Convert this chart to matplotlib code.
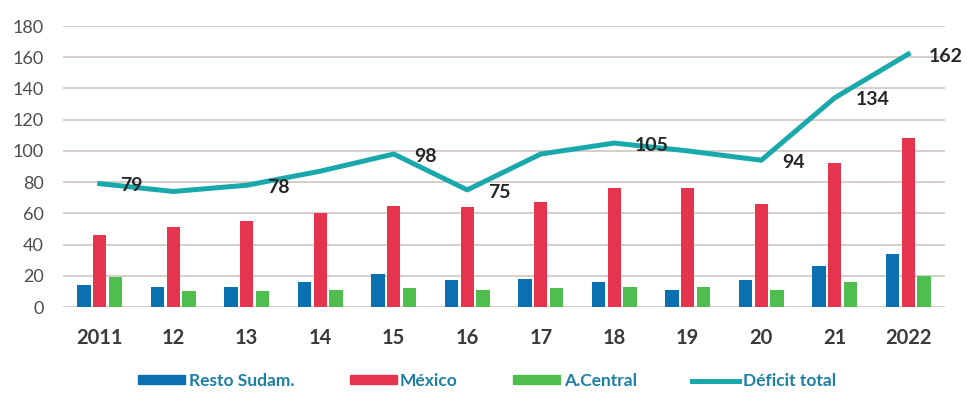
import matplotlib
matplotlib.use("Agg")
import matplotlib.pyplot as plt
import numpy as np
from matplotlib.patches import Patch
from matplotlib.lines import Line2D

years = ["2011", "12", "13", "14", "15", "16", "17", "18", "19", "20", "21", "2022"]
resto_sudam = [14, 13, 13, 16, 21, 17, 18, 16, 11, 17, 26, 34]
mexico = [46, 51, 55, 60, 65, 64, 67, 76, 76, 66, 92, 108]
a_central = [19, 10, 10, 11, 12, 11, 12, 13, 13, 11, 16, 20]
deficit_total = [79, 74, 78, 87, 98, 75, 98, 105, 100, 94, 134, 162]
labeled = [True, False, True, False, True, True, False, True, False, True, True, True]

c_blue = "#0A70B0"
c_red = "#E5344E"
c_green = "#4FBE4E"
c_teal = "#19A9AD"
c_legend_text = "#1C7FA6"

plt.rcParams["font.family"] = ["Lato", "DejaVu Sans"]

fig = plt.figure(figsize=(9.67, 3.94), dpi=100)
ax = fig.add_axes([63 / 967, 87 / 394, 882 / 967, 281 / 394])

x = np.arange(len(years))
w = 0.18
off = 0.215
ax.bar(x - off, resto_sudam, width=w, color=c_blue, zorder=3)
ax.bar(x, mexico, width=w, color=c_red, zorder=3)
ax.bar(x + off, a_central, width=w, color=c_green, zorder=3)
ax.plot(x, deficit_total, color=c_teal, lw=3.6, zorder=4, solid_joinstyle="round")

for xi, v, show in zip(x, deficit_total, labeled):
    if show:
        ax.annotate(str(v), (xi, v), xytext=(15, -1.5), textcoords="offset points",
                    ha="left", va="center", fontsize=14, fontweight="bold",
                    color="#262626", zorder=5)

ax.set_xlim(-0.5, len(years) - 0.5)
ax.set_ylim(0, 180)
ax.set_yticks(np.arange(0, 181, 20))
ax.yaxis.grid(True, color="#d8cec9", lw=1.4, zorder=0)
ax.set_axisbelow(True)
for s in ax.spines.values():
    s.set_visible(False)
ax.set_xticks(x)
ax.set_xticklabels(years, fontsize=14.5, fontweight="bold", color="#3a3a3a")
ax.tick_params(axis="x", length=0, pad=15)
ax.tick_params(axis="y", length=0, pad=14, labelsize=13, labelcolor="#4d4d4d")

handles = [
    Patch(color=c_blue, label="Resto Sudam."),
    Patch(color=c_red, label="México"),
    Patch(color=c_green, label="A.Central"),
    Line2D([0], [0], color=c_teal, lw=3.6, label="Déficit total"),
]
leg = fig.legend(handles=handles, loc="center", bbox_to_anchor=(487 / 967, 1 - 381 / 394),
                 ncol=4, frameon=False, prop={"weight": "bold", "size": 12.5},
                 handlelength=2.7, handleheight=0.42, handletextpad=0.2,
                 columnspacing=3.2)
for t in leg.get_texts():
    t.set_color(c_legend_text)

fig.savefig("out.png", dpi=100)
